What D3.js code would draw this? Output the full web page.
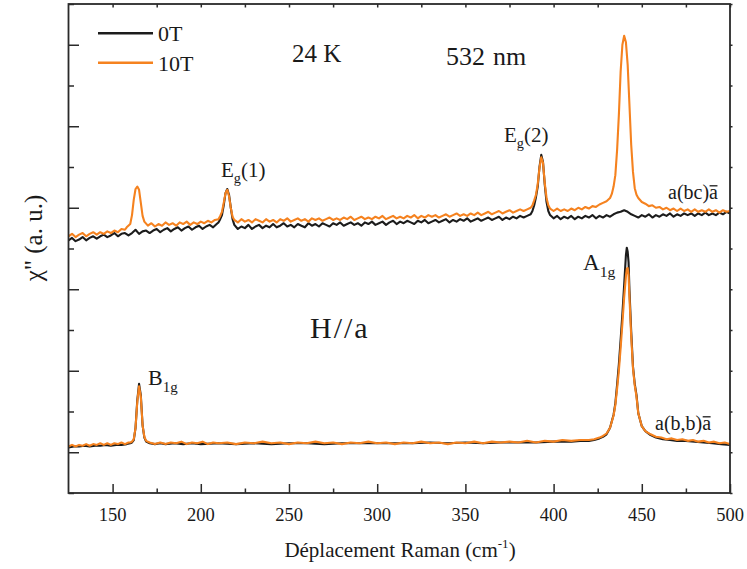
<!DOCTYPE html>
<html><head><meta charset="utf-8">
<script src="https://cdn.jsdelivr.net/npm/d3@7"></script>
<style>body{margin:0;background:#fff}svg{display:block}text{font-family:"Liberation Serif","Times New Roman",serif;fill:#1a1a1a}</style>
</head><body><svg id="c" width="747" height="569"></svg>
<script>
// ---- data (Raman shift cm^-1, chi'' in arbitrary units) ----
const xTicks = [150,200,250,300,350,400,450,500];
const xMinor = [175,225,275,325,375,425,475];
const yMajor = [5,15,25,35,45,55];
const yMinor = [0,10,20,30,40,50,60];
const seriesNames = ["0T","10T"];
const seriesColors = ["#1c1c1c","#f5821f"];

const bc0T = [[125,31.0],[127,31.3],[129,30.9],[131,31.1],[133,31.4],[135,31.0],[137,31.3],[139,31.5],[141,31.2],[143,31.5],[145,31.7],[147,31.4],[149,31.6],[151,31.9],[153,31.5],[155,31.8],[157,31.9],[159,31.6],[161,31.9],[163,32.3],[165,31.8],[167,32.1],[169,32.2],[171,31.9],[173,32.2],[175,32.4],[177,32.0],[179,32.3],[181,32.5],[183,32.1],[185,32.4],[187,32.6],[189,32.2],[191,32.5],[193,32.7],[195,32.3],[197,32.6],[199,32.8],[201,32.4],[203,32.7],[205,32.9],[207,32.6],[209,33.0],[210,33.2],[211,33.6],[212,34.1],[213,35.3],[214,36.8],[215,37.3],[216,36.6],[217,35.0],[218,33.6],[219,32.9],[221,32.4],[223,32.7],[225,32.5],[227,32.9],[229,32.4],[231,32.7],[233,32.9],[235,32.5],[237,32.8],[239,32.6],[241,33.0],[243,32.6],[245,32.8],[247,33.1],[249,32.7],[251,32.9],[253,32.6],[255,33.0],[257,32.8],[259,32.6],[261,33.1],[263,32.8],[265,33.0],[267,32.7],[269,33.1],[271,32.9],[273,32.7],[275,33.1],[277,32.9],[279,33.2],[281,32.8],[283,33.0],[285,33.2],[287,32.9],[289,33.1],[291,32.8],[293,33.2],[295,33.0],[297,33.3],[299,32.9],[301,33.1],[303,33.3],[305,32.9],[307,33.2],[309,33.4],[311,33.0],[313,33.3],[315,33.1],[317,33.4],[319,33.2],[321,33.0],[323,33.4],[325,33.2],[327,33.5],[329,33.1],[331,33.3],[333,33.5],[335,33.2],[337,33.4],[339,33.6],[341,33.2],[343,33.5],[345,33.3],[347,33.6],[349,33.4],[351,33.7],[353,33.3],[355,33.5],[357,33.7],[359,33.4],[361,33.6],[363,33.8],[365,33.5],[367,33.7],[369,33.9],[371,33.5],[373,33.8],[375,33.6],[377,33.9],[379,33.7],[381,34.0],[383,33.8],[385,34.0],[387,34.2],[388,34.6],[389,35.3],[390,36.3],[391,37.6],[392,40.0],[393,41.5],[394,40.6],[395,37.8],[396,35.7],[397,34.6],[398,34.1],[400,33.7],[402,34.0],[404,33.6],[406,33.9],[408,33.7],[410,34.0],[412,33.6],[414,33.9],[416,33.7],[418,34.0],[420,33.8],[422,34.1],[424,33.7],[426,34.0],[428,33.8],[430,34.1],[432,33.9],[434,34.2],[436,34.4],[438,34.5],[440,34.7],[442,34.5],[444,34.2],[446,34.0],[448,33.8],[450,34.1],[452,33.9],[454,34.2],[456,33.8],[458,34.1],[460,33.9],[462,34.2],[464,34.0],[466,34.3],[468,33.9],[470,34.2],[472,34.0],[474,34.3],[476,34.1],[478,34.3],[480,34.0],[482,34.3],[484,34.1],[486,34.4],[488,34.1],[490,34.3],[492,34.1],[494,34.4],[496,34.2],[498,34.5],[500,34.3]];

const bc10T = [[125,31.5],[127,31.8],[129,31.4],[131,31.7],[133,31.9],[135,31.5],[137,31.8],[139,32.0],[141,31.7],[143,32.0],[145,31.8],[147,32.1],[149,31.9],[151,32.2],[153,32.0],[155,32.4],[157,32.3],[158,32.6],[160,33.0],[161,34.1],[162,36.0],[163,37.3],[164,37.6],[165,37.2],[166,35.6],[167,34.0],[168,33.3],[170,32.8],[172,33.1],[174,32.7],[176,33.0],[178,32.8],[180,33.2],[182,32.9],[184,33.1],[186,32.8],[188,33.2],[190,33.0],[192,33.3],[194,32.9],[196,33.2],[198,33.0],[200,33.3],[202,33.1],[204,33.4],[206,33.2],[208,33.5],[210,33.6],[211,34.0],[212,34.5],[213,35.6],[214,36.8],[215,37.2],[216,36.4],[217,35.0],[218,33.9],[219,33.5],[221,33.2],[223,33.6],[225,33.3],[227,33.5],[229,33.2],[231,33.6],[233,33.4],[235,33.2],[237,33.6],[239,33.3],[241,33.5],[243,33.2],[245,33.6],[247,33.4],[249,33.7],[251,33.3],[253,33.5],[255,33.7],[257,33.4],[259,33.6],[261,33.3],[263,33.7],[265,33.5],[267,33.7],[269,33.4],[271,33.6],[273,33.8],[275,33.5],[277,33.7],[279,33.5],[281,33.8],[283,33.6],[285,33.9],[287,33.5],[289,33.7],[291,33.9],[293,33.6],[295,33.8],[297,33.6],[299,33.9],[301,33.7],[303,34.0],[305,33.6],[307,33.8],[309,34.0],[311,33.7],[313,33.9],[315,33.7],[317,34.0],[319,33.8],[321,34.1],[323,33.7],[325,34.0],[327,33.8],[329,34.1],[331,33.9],[333,34.1],[335,33.8],[337,34.0],[339,34.2],[341,33.9],[343,34.1],[345,34.3],[347,34.0],[349,34.2],[351,34.0],[353,34.3],[355,34.1],[357,34.4],[359,34.1],[361,34.3],[363,34.5],[365,34.2],[367,34.4],[369,34.6],[371,34.3],[373,34.5],[375,34.7],[377,34.4],[379,34.6],[381,34.8],[383,34.6],[385,34.8],[387,35.0],[388,35.3],[389,35.9],[390,36.6],[391,37.9],[392,39.9],[393,41.2],[394,40.5],[395,38.0],[396,36.2],[397,35.3],[398,34.9],[400,34.6],[402,34.9],[404,34.6],[406,34.8],[408,34.6],[410,34.9],[412,34.7],[414,35.0],[416,34.8],[418,35.1],[420,34.9],[422,35.2],[424,35.1],[426,35.4],[428,35.6],[430,35.8],[432,36.2],[433,36.7],[434,37.6],[435,39.0],[436,42.1],[437,46.4],[438,51.7],[439,55.0],[440,56.1],[441,55.3],[442,52.5],[443,47.6],[444,42.7],[445,39.4],[446,37.4],[447,36.6],[448,36.2],[450,35.7],[452,35.5],[454,35.2],[456,35.3],[458,35.0],[460,35.1],[462,34.8],[464,35.0],[466,34.7],[468,34.9],[470,34.6],[472,34.9],[474,34.6],[476,34.8],[478,34.5],[480,34.8],[482,34.5],[484,34.7],[486,34.5],[488,34.8],[490,34.5],[492,34.7],[494,34.4],[496,34.7],[498,34.5],[500,34.6]];

const bb0T = [[125,5.6],[128,5.7],[131,5.7],[134,5.8],[137,5.7],[140,5.8],[143,5.8],[146,5.9],[149,5.8],[152,5.9],[155,5.9],[158,6.0],[160,6.1],[161,6.2],[162,6.5],[163,8.0],[164,11.4],[165,13.4],[166,12.0],[167,8.3],[168,6.8],[169,6.3],[171,6.1],[174,6.0],[177,6.1],[180,6.0],[185,6.1],[190,6.0],[195,6.1],[200,6.0],[210,6.1],[220,6.0],[230,6.1],[240,6.0],[250,6.1],[260,6.1],[270,6.0],[280,6.1],[290,6.1],[300,6.1],[310,6.1],[320,6.1],[330,6.2],[340,6.1],[350,6.2],[360,6.1],[370,6.2],[380,6.2],[390,6.2],[400,6.3],[405,6.3],[410,6.3],[415,6.4],[420,6.4],[423,6.5],[426,6.7],[428,6.9],[430,7.2],[432,8.0],[434,9.6],[435,11.0],[436,13.3],[437,15.8],[438,18.8],[439,22.0],[440,25.5],[441,29.2],[441.5,30.1],[442,29.6],[442.5,28.3],[443,24.9],[444,19.8],[445,15.5],[446,13.4],[447,12.0],[448,9.8],[450,8.2],[452,7.6],[455,7.1],[458,6.8],[462,6.6],[466,6.5],[470,6.4],[475,6.4],[480,6.3],[485,6.2],[490,6.1],[495,6.0],[500,5.9]];

const bb10T = [[125,5.7],[127,5.9],[129,5.7],[131,5.9],[133,5.8],[135,6.0],[137,5.8],[139,6.0],[141,5.9],[143,6.1],[145,5.9],[147,6.1],[149,5.9],[151,6.1],[153,6.0],[155,6.2],[157,6.0],[159,6.2],[160,6.2],[161,6.3],[162,6.6],[163,8.0],[164,11.2],[165,13.1],[166,11.8],[167,8.3],[168,6.9],[169,6.4],[171,6.2],[174,6.0],[177,6.2],[180,6.0],[183,6.2],[186,6.1],[189,6.3],[192,6.0],[195,6.2],[198,6.1],[201,6.3],[204,6.0],[207,6.2],[210,6.1],[215,6.2],[220,6.0],[225,6.2],[230,6.1],[235,6.3],[240,6.1],[245,6.2],[250,6.0],[255,6.2],[260,6.1],[265,6.3],[270,6.1],[275,6.2],[280,6.0],[285,6.2],[290,6.1],[295,6.3],[300,6.1],[305,6.2],[310,6.0],[315,6.2],[320,6.1],[325,6.3],[330,6.1],[335,6.2],[340,6.0],[345,6.2],[350,6.1],[355,6.3],[360,6.1],[365,6.3],[370,6.2],[375,6.3],[380,6.2],[385,6.4],[390,6.2],[395,6.4],[400,6.3],[405,6.5],[410,6.4],[415,6.5],[420,6.5],[423,6.6],[426,6.8],[428,7.0],[430,7.3],[432,8.0],[434,9.5],[435,10.8],[436,12.8],[437,15.0],[438,17.8],[439,20.8],[440,24.0],[441,26.6],[441.5,27.5],[442,27.6],[442.5,26.8],[443,24.0],[444,19.2],[445,15.3],[446,13.2],[447,11.8],[448,9.8],[450,8.2],[452,7.6],[455,7.2],[458,6.9],[461,6.8],[464,6.6],[467,6.7],[470,6.5],[473,6.6],[476,6.4],[479,6.5],[482,6.3],[485,6.4],[488,6.2],[491,6.3],[494,6.1],[497,6.2],[500,6.0]];

// ---- layout ----
const svg = d3.select("#c");
const L = 68.5, R = 730, T = 4, B = 493;
const x = d3.scaleLinear().domain([125,500]).range([L,R]);
const y = d3.scaleLinear().domain([0,60]).range([B,T]);
const axisColor = "#2a2a2a";

const line = d3.line().x(d=>x(d[0])).y(d=>y(d[1]));
svg.append("clipPath").attr("id","pc").append("rect").attr("x",L).attr("y",T).attr("width",R-L).attr("height",B-T);
const g = svg.append("g").attr("clip-path","url(#pc)");
[[bc0T,0],[bc10T,1],[bb0T,0],[bb10T,1]].forEach(([d,i])=>{
  g.append("path").datum(d).attr("d",line).attr("fill","none")
   .attr("stroke",seriesColors[i]).attr("stroke-width",2.1).attr("stroke-linejoin","round");
});

// axes via d3 axis generators
function styl(sel){ sel.select(".domain").remove(); sel.selectAll("line").attr("stroke",axisColor).attr("stroke-width",1.5); sel.selectAll("text").remove(); }
svg.append("g").attr("transform",`translate(0,${B})`).call(d3.axisBottom(x).tickValues(xTicks).tickSize(-9)).call(styl);
svg.append("g").attr("transform",`translate(0,${B})`).call(d3.axisBottom(x).tickValues(xMinor).tickSize(-4.5)).call(styl);
svg.append("g").attr("transform",`translate(0,${T})`).call(d3.axisTop(x).tickValues(xTicks.concat(xMinor)).tickSize(-3.5)).call(styl);
svg.append("g").attr("transform",`translate(${L},0)`).call(d3.axisLeft(y).tickValues(yMajor).tickSize(-10.5)).call(styl);
svg.append("g").attr("transform",`translate(${L},0)`).call(d3.axisLeft(y).tickValues(yMinor).tickSize(-5.5)).call(styl);
svg.append("g").attr("transform",`translate(${R},0)`).call(d3.axisRight(y).tickValues(yMajor.concat(yMinor)).tickSize(2.5)).call(styl);
svg.append("rect").attr("x",L).attr("y",T).attr("width",R-L).attr("height",B-T).attr("fill","none").attr("stroke",axisColor).attr("stroke-width",1.8);

// x tick labels
svg.append("g").selectAll("text").data(xTicks).join("text")
  .attr("x",d=>x(d)).attr("y",521).attr("text-anchor","middle").attr("font-size",18.5).text(d=>d);

// axis titles
const xt = svg.append("text").attr("x",400).attr("y",557).attr("text-anchor","middle").attr("font-size",21);
xt.append("tspan").text("Déplacement Raman (cm");
xt.append("tspan").attr("font-size",13).attr("dy",-9).text("-1");
xt.append("tspan").attr("dy",9).text(")");
svg.append("text").attr("transform","translate(42,238) rotate(-90)").attr("text-anchor","middle").attr("font-size",25)
  .text("χ\" (a. u.)");

// legend
seriesNames.forEach((n,i)=>{
  const yy = 33.3 + i*29.4;
  svg.append("line").attr("x1",98).attr("x2",153).attr("y1",yy).attr("y2",yy).attr("stroke",seriesColors[i]).attr("stroke-width",2.4);
  svg.append("text").attr("x",158).attr("y",yy+8).attr("font-size",22).text(n);
});

svg.append("text").attr("x",292).attr("y",62).attr("font-size",25).text("24 K");
const nm = svg.append("text").attr("x",446).attr("y",65).attr("font-size",26);
nm.append("tspan").text("532");
nm.append("tspan").attr("dx",8).text("nm");
svg.append("text").attr("x",310).attr("y",338).attr("font-size",30).attr("letter-spacing",2).text("H//a");

function subLabel(xp,yp,main,sub,rest,fs){
  const t = svg.append("text").attr("x",xp).attr("y",yp).attr("font-size",fs);
  t.append("tspan").text(main);
  t.append("tspan").attr("font-size",fs*0.68).attr("dy",fs*0.3).text(sub);
  if(rest) t.append("tspan").attr("dy",-fs*0.3).text(rest);
}
subLabel(221,177,"E","g","(1)",21);
subLabel(504,142,"E","g","(2)",21);
subLabel(583,270,"A","1g","",23);
subLabel(148,385,"B","1g","",22);

function barLabel(xp,yp,s,fs){
  const t = svg.append("text").attr("x",xp).attr("y",yp).attr("font-size",fs).text(s);
  const n = s.length;
  const a = t.node().getSubStringLength(0,n-1), w = t.node().getSubStringLength(n-1,1);
  svg.append("line").attr("x1",xp+a+0.5).attr("x2",xp+a+w-0.5).attr("y1",yp-fs*0.66).attr("y2",yp-fs*0.66)
    .attr("stroke","#1a1a1a").attr("stroke-width",1.3);
}
barLabel(668,199,"a(bc)a",20);
barLabel(655,430,"a(b,b)a",20);
</script></body></html>
